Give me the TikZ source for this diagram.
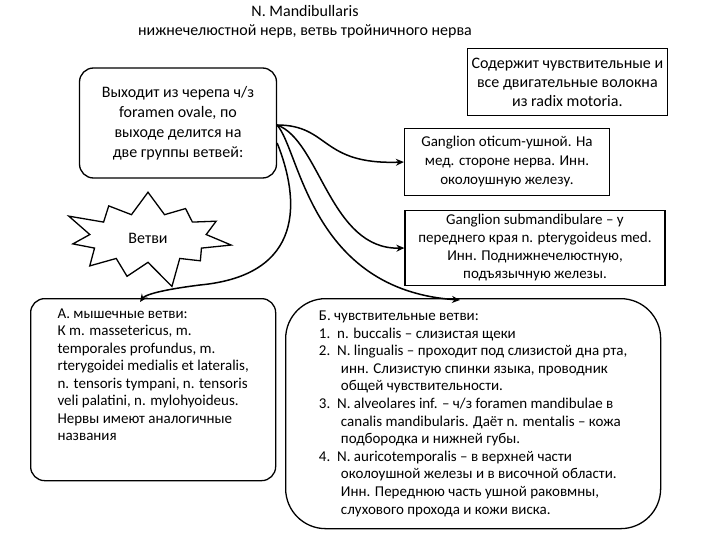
\documentclass[tikz,border=0pt]{standalone}
\usepackage{fontspec}
\setmainfont{Carlito}
\usetikzlibrary{shapes.symbols,arrows.meta}
\begin{document}
\begin{tikzpicture}[x=1pt,y=-1pt,
 box/.style={draw,line width=1.3pt,align=center,inner sep=3pt},
 rbox/.style={box,rounded corners=14pt},
 arr/.style={line width=1.5pt,-{Stealth[length=8pt,width=7pt]}}]
\useasboundingbox (0,0) rectangle (720,540);
\node[align=center,font=\fontsize{16}{19}\selectfont] (title) at (305,22) {N. Mandibullaris\\нижнечелюстной нерв, ветвь тройничного нерва};
\node[rbox,minimum width=197pt,minimum height=110pt,font=\fontsize{16}{20}\selectfont] (left) at (178,123) {Выходит из черепа ч/з\\foramen ovale, по\\выходе делится на\\две группы ветвей:};
\node[box,minimum width=200pt,minimum height=67pt,font=\fontsize{16}{19}\selectfont,anchor=north east] (cont) at (668,48) {Содержит чувствительные и\\все двигательные волокна\\из radix motoria.};
\node[box,minimum width=205pt,minimum height=67pt,font=\fontsize{15}{19}\selectfont] (g1) at (507,162) {Ganglion oticum-ушной. На\\мед. стороне нерва. Инн.\\околоушную железу.};
\node[box,minimum width=260pt,minimum height=75pt,font=\fontsize{15}{18}\selectfont] (g2) at (535,248) {Ganglion submandibulare – у\\переднего края n. pterygoideus med.\\Инн. Поднижнечелюстную,\\подъязычную железы.};
\node[starburst,starburst points=11,starburst point height=30pt,draw,line width=1.3pt,inner xsep=22pt,inner ysep=12pt,font=\fontsize{16}{19}\selectfont] (star) at (148,238) {Ветви};
\node[rbox,minimum width=245pt,minimum height=182pt,anchor=north west,align=left,inner xsep=6pt,inner ysep=10pt,font=\fontsize{15}{17.5}\selectfont] (mus) at (30,298) {А. мышечные ветви:\\К m. massetericus, m.\\temporales profundus, m.\\rterygoidei medialis et lateralis,\\n. tensoris tympani, n. tensoris\\veli palatini, n. mylohyoideus.\\Нервы имеют аналогичные\\названия\\[12pt]};
\node[box,rounded corners=40pt,minimum width=375pt,minimum height=230pt,anchor=north west,align=left,font=\fontsize{15}{17.6}\selectfont] (sens) at (285,298) {%
Б. чувствительные ветви:\\
1.\ \ n. buccalis – слизистая щеки\\
2.\ \ N. lingualis – проходит под слизистой дна рта,\\
\hspace*{22pt}инн. Слизистую спинки языка, проводник\\
\hspace*{22pt}общей чувствительности.\\
3.\ \ N. alveolares inf. – ч/з foramen mandibulae в\\
\hspace*{22pt}canalis mandibularis. Даёт n. mentalis – кожа\\
\hspace*{22pt}подбородка и нижней губы.\\
4.\ \ N. auricotemporalis – в верхней части\\
\hspace*{22pt}околоушной железы и в височной области.\\
\hspace*{22pt}Инн. Переднюю часть ушной раковмны,\\
\hspace*{22pt}слухового прохода и кожи виска.};
\coordinate (o) at (277,125);
\draw[arr] (o) .. controls (330,125) and (320,165) .. (g1.west);
\draw[arr] (o) .. controls (320,140) and (330,250) .. (g2.west);
\draw[arr] (o) .. controls (300,150) and (310,290) .. (460,300);
\draw[arr] (left.east) ++(0,20) .. controls (300,200) and (305,275) .. (200,285) .. controls (160,290) and (145,295) .. (140,302);
\end{tikzpicture}
\end{document}
